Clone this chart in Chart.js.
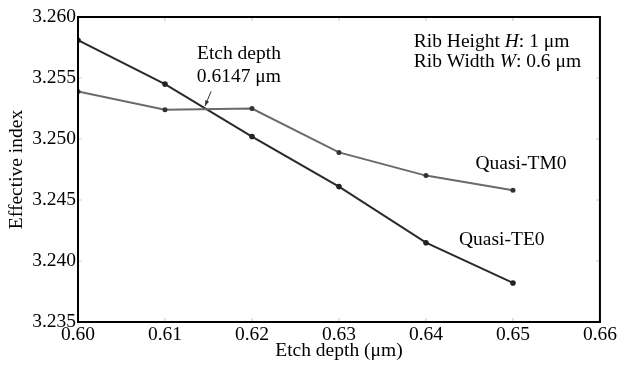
<!DOCTYPE html>
<html><head><meta charset="utf-8">
<style>html,body{margin:0;padding:0;background:#fff}#wrap{width:618px;height:367px}</style>
<script src="https://cdn.jsdelivr.net/npm/chart.js@4/dist/chart.umd.min.js"></script>
</head><body><div id="wrap"><canvas id="c" width="618" height="367"></canvas></div>
<script>
const etchDepth = [0.60, 0.61, 0.62, 0.63, 0.64, 0.65];
const quasiTE0 = [3.2581, 3.2545, 3.2502, 3.2461, 3.2415, 3.2382];
const quasiTM0 = [3.2539, 3.2524, 3.2525, 3.2489, 3.2470, 3.2458];
const xTicks = [0.60, 0.61, 0.62, 0.63, 0.64, 0.65, 0.66];
const yTicks = [3.235, 3.240, 3.245, 3.250, 3.255, 3.260];
const crossing = 0.6147;

const FONT = '"Liberation Serif", "Times New Roman", serif';
const FS = 19.5;

const pts = (xs, ys) => xs.map((x, i) => ({x, y: ys[i]}));

function drawRich(ctx, parts, x, y) {
  let cx = x;
  for (const [t, it] of parts) {
    ctx.font = (it ? 'italic ' : '') + FS + 'px ' + FONT;
    ctx.fillText(t, cx, y);
    cx += ctx.measureText(t).width;
  }
}

const deco = {
  id: 'deco',
  beforeDatasetsDraw(chart) {
    const {ctx, chartArea: a, scales: {x, y}} = chart;
    ctx.save();
    ctx.strokeStyle = '#cfcfcf';
    ctx.lineWidth = 1.2;
    const L = 4;
    xTicks.forEach(v => {
      const px = x.getPixelForValue(v);
      ctx.beginPath();
      ctx.moveTo(px, a.bottom); ctx.lineTo(px, a.bottom - L);
      ctx.moveTo(px, a.top); ctx.lineTo(px, a.top + L);
      ctx.stroke();
    });
    yTicks.forEach(v => {
      const py = y.getPixelForValue(v);
      ctx.beginPath();
      ctx.moveTo(a.left, py); ctx.lineTo(a.left + L, py);
      ctx.moveTo(a.right, py); ctx.lineTo(a.right - L, py);
      ctx.stroke();
    });
    ctx.restore();
  },
  afterDraw(chart) {
    const {ctx, chartArea: a, scales: {x, y}} = chart;
    ctx.save();
    ctx.strokeStyle = '#000';
    ctx.lineWidth = 2;
    ctx.strokeRect(a.left, a.top, a.right - a.left, a.bottom - a.top);

    ctx.fillStyle = '#000';
    ctx.font = FS + 'px ' + FONT;
    ctx.textBaseline = 'middle';
    ctx.textAlign = 'center';
    ctx.fillText('Etch depth (\u03bcm)', (a.left + a.right) / 2, 351);
    ctx.save();
    ctx.translate(17, (a.top + a.bottom) / 2);
    ctx.rotate(-Math.PI / 2);
    ctx.fillText('Effective index', 0, 0);
    ctx.restore();

    ctx.fillText('Etch depth', x.getPixelForValue(0.6185), y.getPixelForValue(3.2570));
    ctx.fillText(crossing.toFixed(4) + ' \u03bcm', x.getPixelForValue(0.6185), y.getPixelForValue(3.2551));
    const x1 = x.getPixelForValue(0.6153), y1 = y.getPixelForValue(3.2539);
    const x2 = x.getPixelForValue(0.6146), y2 = y.getPixelForValue(3.2527);
    ctx.strokeStyle = '#333';
    ctx.lineWidth = 1;
    ctx.beginPath(); ctx.moveTo(x1, y1); ctx.lineTo(x2, y2); ctx.stroke();
    const ang = Math.atan2(y2 - y1, x2 - x1);
    ctx.fillStyle = '#333';
    ctx.beginPath();
    ctx.moveTo(x2, y2);
    ctx.lineTo(x2 - 6 * Math.cos(ang - 0.35), y2 - 6 * Math.sin(ang - 0.35));
    ctx.lineTo(x2 - 6 * Math.cos(ang + 0.35), y2 - 6 * Math.sin(ang + 0.35));
    ctx.closePath(); ctx.fill();

    ctx.fillStyle = '#000';
    ctx.textAlign = 'left';
    drawRich(ctx, [['Rib Height ', false], ['H', true], [': 1 \u03bcm', false]], x.getPixelForValue(0.6386), y.getPixelForValue(3.2580));
    drawRich(ctx, [['Rib Width ', false], ['W', true], [': 0.6 \u03bcm', false]], x.getPixelForValue(0.6386), y.getPixelForValue(3.2563));
    ctx.font = FS + 'px ' + FONT;
    ctx.fillText('Quasi-TM0', x.getPixelForValue(0.6457), y.getPixelForValue(3.2480));
    ctx.fillText('Quasi-TE0', x.getPixelForValue(0.6438), y.getPixelForValue(3.2417));
    ctx.restore();
  }
};

new Chart(document.getElementById('c'), {
  type: 'scatter',
  data: {
    datasets: [
      {label: 'Quasi-TM0', data: pts(etchDepth, quasiTM0), showLine: true,
       borderColor: '#6a6a6a', backgroundColor: '#333', borderWidth: 2,
       pointRadius: 2.5, pointBorderWidth: 0, tension: 0},
      {label: 'Quasi-TE0', data: pts(etchDepth, quasiTE0), showLine: true,
       borderColor: '#2a2a2a', backgroundColor: '#222', borderWidth: 2,
       pointRadius: 2.8, pointBorderWidth: 0, tension: 0}
    ]
  },
  options: {
    responsive: false,
    animation: false,
    devicePixelRatio: 1,
    layout: {padding: {left: 0, right: 18, top: 17, bottom: 0}},
    plugins: {legend: {display: false}, tooltip: {enabled: false}},
    scales: {
      x: {
        type: 'linear', min: 0.60, max: 0.66,
        afterBuildTicks: s => { s.ticks = xTicks.map(v => ({value: v})); },
        afterFit: s => { s.height = 45; },
        grid: {display: false, drawTicks: false},
        border: {display: false},
        ticks: {padding: 1, color: '#000', font: {family: FONT, size: FS},
                maxRotation: 0, autoSkip: false,
                callback: v => v.toFixed(2)}
      },
      y: {
        type: 'linear', min: 3.235, max: 3.260,
        afterBuildTicks: s => { s.ticks = yTicks.map(v => ({value: v})); },
        afterFit: s => { s.width = 78; },
        grid: {display: false, drawTicks: false},
        border: {display: false},
        ticks: {padding: 2, color: '#000', font: {family: FONT, size: FS},
                autoSkip: false, callback: v => v.toFixed(3)}
      }
    }
  },
  plugins: [deco]
});
</script></body></html>
